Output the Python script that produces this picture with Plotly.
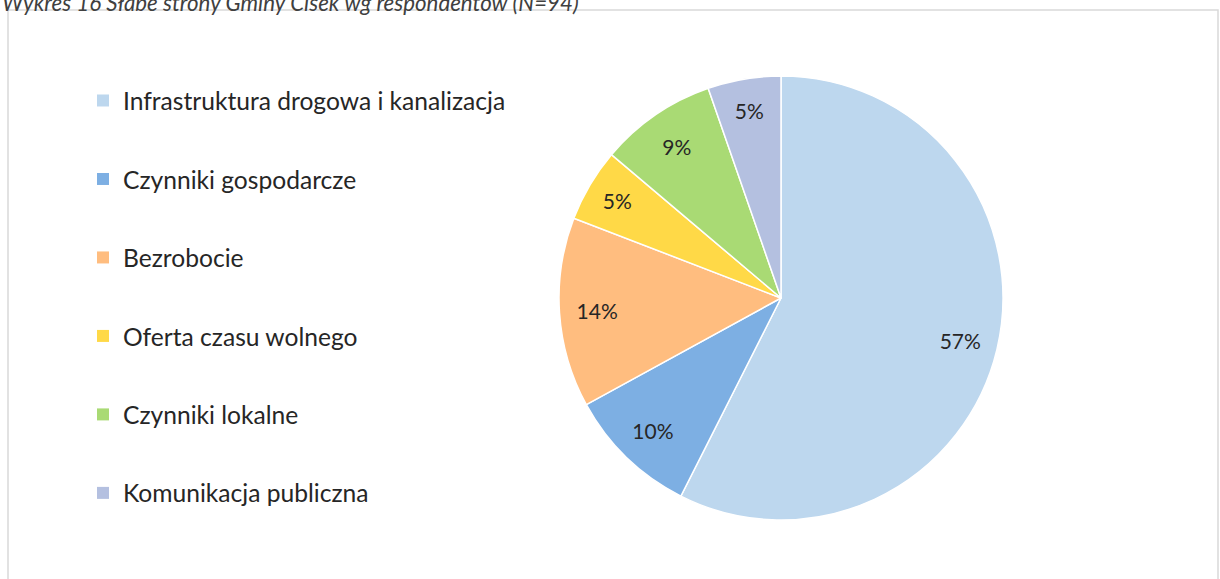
import plotly.graph_objects as go

# Wykres 16 - slabe strony gminy (N=94)
categories = [
    "Infrastruktura drogowa i kanalizacja",
    "Czynniki gospodarcze",
    "Bezrobocie",
    "Oferta czasu wolnego",
    "Czynniki lokalne",
    "Komunikacja publiczna",
]
counts = [54, 9, 13, 5, 8, 5]
colors = ["#BDD7EE", "#7DAFE3", "#FFBD7F", "#FFD947", "#A9DA74", "#B4C0E0"]

title_text = "Wykres 16 Słabe strony Gminy Cisek wg respondentów (N=94)"
font_family = "Lato, 'Open Sans', sans-serif"
text_color = "#262626"

W, H = 1220, 579
pie_domain = dict(x=[559 / W, 1003 / W], y=[(H - 520) / H, (H - 76) / H])

fig = go.Figure()

fig.add_trace(go.Pie(
    labels=categories,
    values=counts,
    marker=dict(colors=colors, line=dict(color="white", width=1.5)),
    sort=False,
    direction="clockwise",
    rotation=0,
    textinfo="none",
    domain=pie_domain,
    showlegend=False,
    hoverinfo="label+value+percent",
))

# transparent ring on top, only to carry the % labels out towards the rim
fig.add_trace(go.Pie(
    labels=categories,
    values=counts,
    hole=0.66,
    marker=dict(colors=["rgba(0,0,0,0)"] * len(counts), line=dict(width=0)),
    sort=False,
    direction="clockwise",
    rotation=0,
    texttemplate="%{percent:.0%}",
    textposition="inside",
    insidetextorientation="horizontal",
    textfont=dict(size=21, color=text_color, family=font_family),
    domain=pie_domain,
    showlegend=False,
    hoverinfo="skip",
))

# legend entries as dummy square markers, one group each to get the spacing
for name, col in zip(categories, colors):
    fig.add_trace(go.Scatter(
        x=[None], y=[None], mode="markers", name=name, legendgroup=name,
        marker=dict(symbol="square", size=12, color=col),
    ))

fig.update_layout(
    width=W, height=H,
    margin=dict(l=0, r=0, t=0, b=0),
    paper_bgcolor="white",
    plot_bgcolor="white",
    xaxis=dict(visible=False),
    yaxis=dict(visible=False),
    legend=dict(
        x=83 / W, y=(H - 78) / H, xanchor="left", yanchor="top",
        font=dict(size=24.6, color=text_color, family=font_family),
        tracegroupgap=43.5, traceorder="grouped",
        bgcolor="rgba(0,0,0,0)",
    ),
    shapes=[dict(
        type="rect", xref="paper", yref="paper",
        x0=8 / W, x1=1218 / W, y0=-0.05, y1=(H - 10) / H,
        line=dict(color="#D9D9D9", width=1.5), fillcolor="rgba(0,0,0,0)",
    )],
    annotations=[dict(
        text="<i>" + title_text + "</i>", xref="paper", yref="paper",
        x=0, y=(H - 2) / H, xanchor="left", yanchor="middle", showarrow=False,
        font=dict(size=22.3, color="#404040", family=font_family),
    )],
)

# page body margin would push the chart 8px off the window corner
fig.write_html("out.html", config={"displayModeBar": False},
               post_script="document.body.style.margin='0';")
